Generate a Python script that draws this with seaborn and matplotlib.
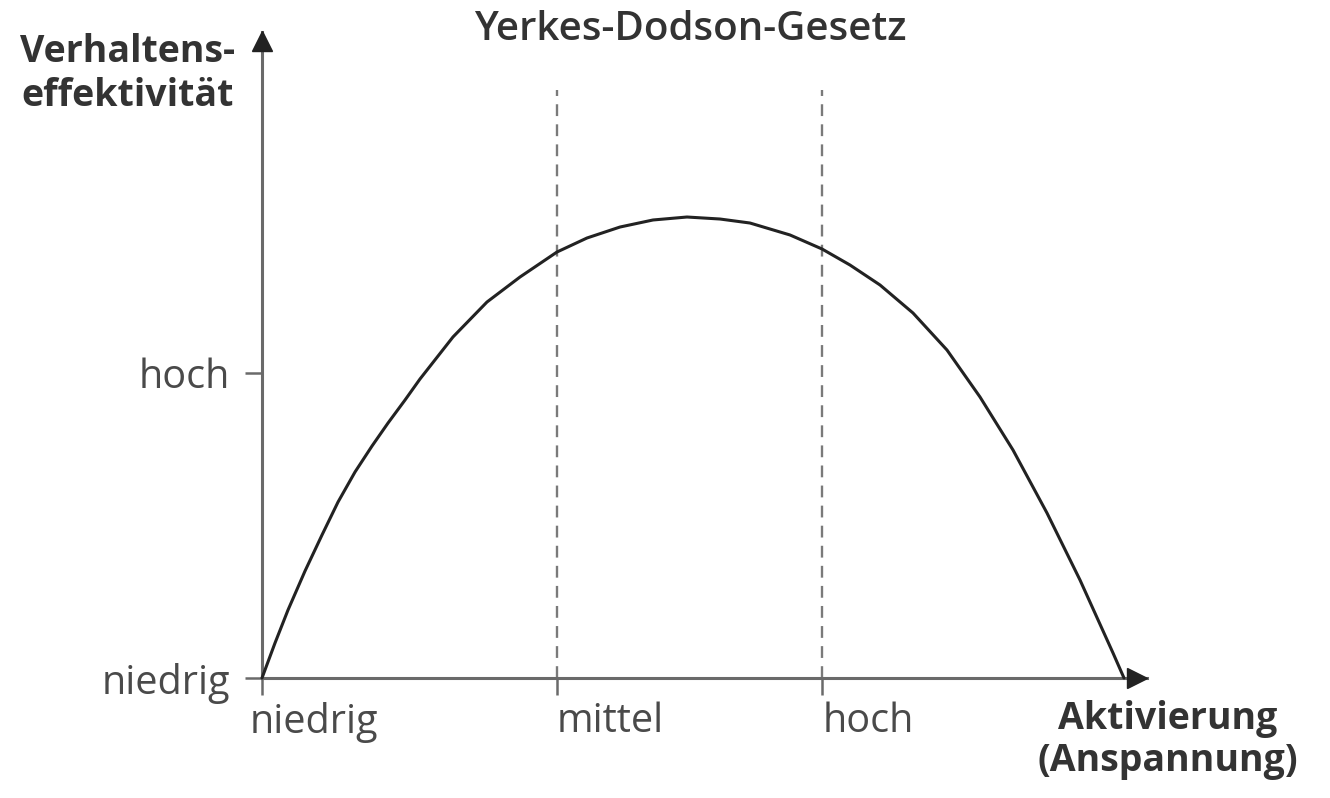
import matplotlib
matplotlib.use("Agg")
import numpy as np
import pandas as pd
import matplotlib.pyplot as plt
import matplotlib.transforms as mtransforms
import seaborn as sns

# Kurvenpunkte, Aktivierung 0..100, Effektivitaet 0..100
aktivierung = [0, 1.47, 2.94, 4.86, 6.78, 8.59, 10.51, 12.43, 14.24, 16.16,
               17.85, 21.58, 25.42, 29.15, 33.33, 36.72, 40.45, 44.18, 48.02,
               51.75, 55.14, 59.66, 63.28, 66.44, 69.83, 73.56, 77.40, 81.13,
               84.86, 88.70, 92.43, 96.16, 97.40]
effektivitaet = [0, 5.42, 10.53, 16.56, 22.14, 27.24, 31.89, 35.91, 39.47, 43.03,
                 46.28, 52.79, 58.20, 62.07, 65.94, 68.11, 69.81, 70.90, 71.36,
                 71.05, 70.43, 68.58, 66.41, 63.93, 60.84, 56.50, 50.77, 43.50,
                 35.29, 25.54, 15.17, 3.87, 0]

x_ticks = [0, 33.3, 63.3]
x_labels = ["niedrig", "mittel", "hoch"]
y_ticks = [0, 47.2]
y_labels = ["niedrig", "hoch"]
dashed_x = [33.3, 63.3]
dashed_top = 91

title = "Yerkes-Dodson-Gesetz"
y_title = "Verhaltens-\neffektivität"
x_title = "Aktivierung\n(Anspannung)"

sns.set_theme(style="white")
plt.rcParams["font.family"] = ["Open Sans", "DejaVu Sans"]

W, H = 1330, 798
fig = plt.figure(figsize=(W / 100, H / 100), dpi=100)
ax = fig.add_axes([262 / W, (H - 678) / H, 885 / W, 646 / H])

axis_col = "#6a6a6a"
text_col = "#4a4a4a"

df = pd.DataFrame({"x": aktivierung, "y": effektivitaet})
sns.lineplot(data=df, x="x", y="y", ax=ax, sort=False, estimator=None,
             color="#222222", linewidth=2.2, clip_on=False, zorder=4)

ax.vlines(dashed_x, 0, dashed_top, colors="#7a7a7a", linestyles=(0, (5, 3.5)),
          linewidth=1.7, zorder=2)

ax.set_xlim(0, 100)
ax.set_ylim(0, 100)
ax.set_xlabel("")
ax.set_ylabel("")

for s in ["top", "right"]:
    ax.spines[s].set_visible(False)
for s in ["left", "bottom"]:
    ax.spines[s].set_color(axis_col)
    ax.spines[s].set_linewidth(2.2)

# Pfeilspitzen
ax.plot(98.9, 0, marker=">", color="#222222", markersize=15, clip_on=False, zorder=5)
ax.plot(0, 98.6, marker="^", color="#222222", markersize=15, clip_on=False, zorder=5)

ax.set_xticks(x_ticks)
ax.set_xticklabels(x_labels, ha="left")
ax.set_yticks(y_ticks)
ax.set_yticklabels(y_labels)
ax.tick_params(axis="x", direction="out", length=12, width=1.8, color=axis_col,
               pad=5, labelsize=28.5, labelcolor=text_col, bottom=True)
ax.tick_params(axis="y", direction="out", length=12, width=1.8, color=axis_col,
               pad=11, labelsize=28.5, labelcolor=text_col, left=True)

# "niedrig" an der x-Achse etwas nach links
first = ax.get_xticklabels()[0]
first.set_transform(first.get_transform() +
                    mtransforms.ScaledTranslation(-0.12, 0, fig.dpi_scale_trans))

fig.text(690 / W, 1 - 30 / H, title, ha="center", va="center", fontsize=29,
         fontweight="semibold", color="#333333")
fig.text(128 / W, 1 - 74 / H, y_title, ha="center", va="center", fontsize=27,
         fontweight="bold", color="#333333", multialignment="center", linespacing=1.2)
fig.text(1168 / W, 1 - 740 / H, x_title, ha="center", va="center", fontsize=27,
         fontweight="bold", color="#333333", multialignment="center", linespacing=1.15)

fig.savefig("out.png", dpi=100, facecolor="white")
